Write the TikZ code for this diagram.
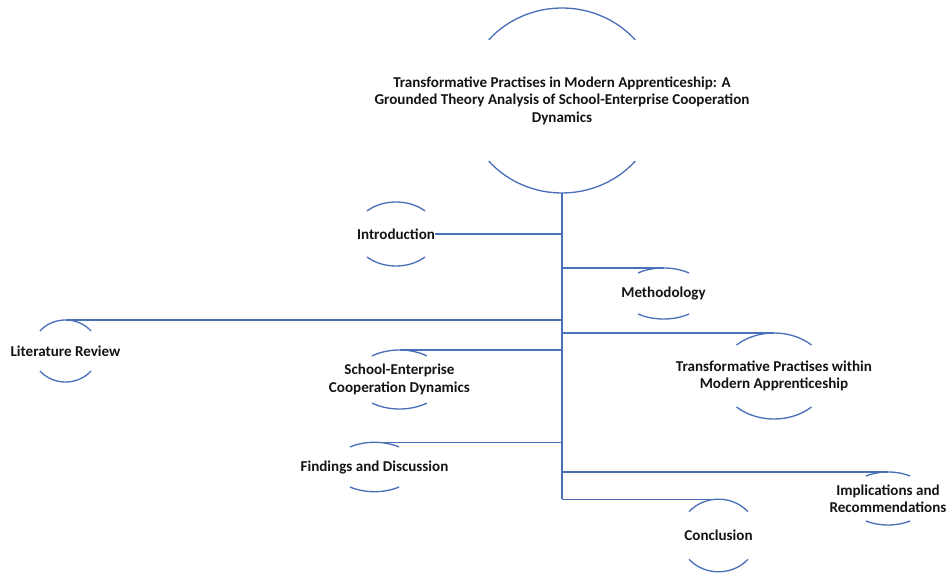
\documentclass[tikz,border=0pt]{standalone}
\usepackage{fontspec}
\setmainfont{Carlito}
\usetikzlibrary{calc}
\definecolor{apblue}{HTML}{4A70BA}
\definecolor{apink}{HTML}{141414}
\tikzset{
  aptopic/.style={font=\bfseries\fontsize{11.3}{13.1}\selectfont, text=apink,
                  align=center, inner sep=0pt},
  apring/.style={draw=apblue, line width=1pt},
  apbranch/.style={draw=apblue, line width=1pt},
  apspine/.style={draw=apblue, line width=1.6pt},
}
\newcommand{\aptopicring}[4]{%
  \coordinate (#1-top) at ($(#1.center)+(0,-#3)$);
  \coordinate (#1-bot) at ($(#1.center)+(0,#3)$);
  \draw[apring, shift={(#1.center)}]
    plot[domain=-#4:#4, samples=30] ({#2*sin(\x)}, {-#3*cos(\x)})
    plot[domain=-#4:#4, samples=30] ({#2*sin(\x)}, {#3*cos(\x)});
}

\begin{document}
\begin{tikzpicture}[x=0.75pt,y=-0.75pt]
  \useasboundingbox (0,0) rectangle (947,573);
  \node[aptopic] (title) at (562,100.5)
    {Transformative Practises in Modern Apprenticeship: A\\
     Grounded Theory Analysis of School-Enterprise Cooperation\\
     Dynamics};
  \node[aptopic] (intro) at (396,234) {Introduction};
  \node[aptopic] (method) at (663.5,293.5) {Methodology};
  \node[aptopic] (lit) at (65.5,351) {Literature Review};
  \node[aptopic] (school) at (399.5,379.5) {School-Enterprise\\Cooperation Dynamics};
  \node[aptopic] (trans) at (774,376) {Transformative Practises within\\Modern Apprenticeship};
  \node[aptopic] (findings) at (374.5,467) {Findings and Discussion};
  \node[aptopic] (impl) at (888,498.5) {Implications and\\Recommendations};
  \node[aptopic] (concl) at (718.5,535.5) {Conclusion};

  \aptopicring{title}{97}{92.5}{49}
  \aptopicring{intro}{41.7}{32}{44}
  \aptopicring{method}{42.9}{25.5}{36.5}
  \aptopicring{lit}{33.4}{31}{50}
  \aptopicring{school}{45.5}{29.5}{37}
  \aptopicring{trans}{54}{43}{44}
  \aptopicring{findings}{41.8}{24.7}{36}
  \aptopicring{impl}{41.7}{26.5}{32}
  \aptopicring{concl}{39}{36.3}{49}

  \draw[apspine] (title-bot) -- (title-bot |- concl-top);
  \draw[apbranch] (intro.east) -- (intro.east -| title-bot);
  \draw[apbranch] (method-top) -- (method-top -| title-bot);
  \draw[apbranch] (lit-top) -- (lit-top -| title-bot);
  \draw[apbranch] (trans-top) -- (trans-top -| title-bot);
  \draw[apbranch] (school-top) -- (school-top -| title-bot);
  \draw[apbranch] (findings-top) -- (findings-top -| title-bot);
  \draw[apbranch] (impl-top) -- (impl-top -| title-bot);
  \draw[apbranch] (concl-top) -- (concl-top -| title-bot);
\end{tikzpicture}
\end{document}
